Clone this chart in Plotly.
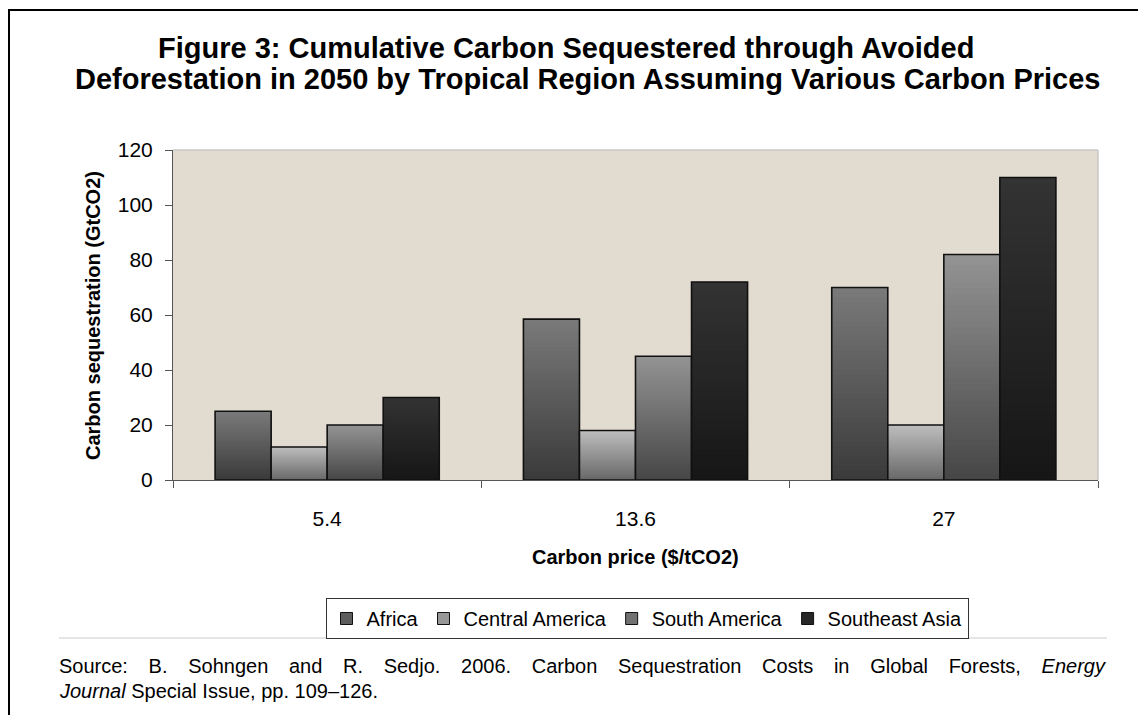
import plotly.graph_objects as go


# =========================================
# DATA
# =========================================
prices = ["5.4", "13.6", "27"]
regions = ["Africa", "Central America", "South America", "Southeast Asia"]

africa = [25, 58.5, 70]
central_america = [12, 18, 20]
south_america = [20, 45, 82]
southeast_asia = [30, 72, 110]

y_ticks = [0, 20, 40, 60, 80, 100, 120]


# =========================================
# STYLE
# =========================================
FONT_FAMILY = "Arial, Liberation Sans, sans-serif"
PLOT_BG = "#e2dbd0"
AXIS_COLOR = "#555555"
# (top colour, bottom colour) of each bar gradient
GRADIENTS = {
    "Africa": ((0x7a, 0x7a, 0x7a), (0x3a, 0x3a, 0x3a)),
    "Central America": ((0xbe, 0xbe, 0xbe), (0x68, 0x68, 0x68)),
    "South America": ((0x94, 0x94, 0x94), (0x46, 0x46, 0x46)),
    "Southeast Asia": ((0x33, 0x33, 0x33), (0x16, 0x16, 0x16)),
}
N_LAYERS = 40

# page is offset by the 8px body margin of the html page
OFF = 8
W, H = 1146 - 2 * OFF, 723 - 2 * OFF
# plot area in page pixels (used only to place decorations)
L, R, T, B = 173, 1098, 150, 480


def px_x(x):
    return (x - L) / (R - L)


def px_y(y):
    return (B - y) / (B - T)


def mix(c1, c2, t):
    r, g, b = (round(a + (b_ - a) * t) for a, b_ in zip(c1, c2))
    return f"rgb({r},{g},{b})"


series = {
    "Africa": africa,
    "Central America": central_america,
    "South America": south_america,
    "Southeast Asia": southeast_asia,
}

fig = go.Figure()

for name, values in series.items():
    top, bottom = GRADIENTS[name]

    # gradient fill: overlapping bars, each shorter and darker than the last
    for k in range(N_LAYERS):
        frac = (N_LAYERS - k) / N_LAYERS
        fig.add_trace(go.Bar(
            x=prices,
            y=[v * frac for v in values],
            offsetgroup=name,
            marker=dict(color=mix(bottom, top, frac - 0.5 / N_LAYERS), line=dict(width=0)),
            showlegend=False,
            hoverinfo="skip",
        ))

    # outline
    fig.add_trace(go.Bar(
        x=prices,
        y=values,
        offsetgroup=name,
        marker=dict(color="rgba(0,0,0,0)", line=dict(color="#111111", width=1.6)),
        name=name,
        showlegend=False,
    ))

    # legend entry
    fig.add_trace(go.Bar(
        x=[None],
        y=[None],
        offsetgroup=name,
        marker=dict(color=mix(bottom, top, 0.55), line=dict(color="#111111", width=1)),
        name=name,
        showlegend=True,
    ))


fig.update_layout(
    width=W,
    height=H,
    barmode="group",
    bargap=0.273,
    bargroupgap=0,
    paper_bgcolor="white",
    plot_bgcolor=PLOT_BG,
    font=dict(family=FONT_FAMILY, color="black", size=21),
    margin=dict(l=L - OFF, r=W - (R - OFF), t=T - OFF, b=H - (B - OFF)),
    legend=dict(
        orientation="h",
        x=px_x(647),
        xanchor="center",
        y=px_y(598),
        yanchor="top",
        bordercolor="#333333",
        borderwidth=1,
        bgcolor="white",
        font=dict(size=20),
        traceorder="normal",
        itemwidth=30,
    ),
)

fig.update_xaxes(
    showline=True,
    linecolor=AXIS_COLOR,
    linewidth=1,
    ticks="outside",
    tickson="boundaries",
    ticklen=7,
    tickcolor=AXIS_COLOR,
    ticklabelstandoff=20,
    tickfont=dict(size=21),
    showgrid=False,
)

fig.update_yaxes(
    range=[0, 120],
    tickvals=y_ticks,
    showline=True,
    linecolor=AXIS_COLOR,
    linewidth=1,
    ticks="outside",
    ticklen=7,
    tickcolor=AXIS_COLOR,
    ticklabelstandoff=8,
    tickfont=dict(size=21),
    showgrid=False,
    zeroline=False,
)

# title, two lines
for text, x, y in [
    ("Figure 3: Cumulative Carbon Sequestered through Avoided", 566, 48),
    ("Deforestation in 2050 by Tropical Region Assuming Various Carbon Prices", 587, 79),
]:
    fig.add_annotation(
        xref="paper", yref="paper", x=px_x(x), y=px_y(y),
        xanchor="center", yanchor="middle", showarrow=False,
        text=f"<b>{text}</b>", font=dict(size=29),
    )

# axis titles
fig.add_annotation(
    xref="paper", yref="paper", x=px_x(635), y=px_y(557),
    xanchor="center", yanchor="middle", showarrow=False,
    text="<b>Carbon price ($/tCO2)</b>", font=dict(size=20),
)
fig.add_annotation(
    xref="paper", yref="paper", x=px_x(93), y=px_y(316),
    xanchor="center", yanchor="middle", showarrow=False, textangle=-90,
    text="<b>Carbon sequestration (GtCO2)</b>", font=dict(size=20),
)

# light frame on top/right of the plot area
fig.add_shape(type="line", xref="paper", yref="paper", x0=0, x1=1, y0=1, y1=1,
              line=dict(color="#c8c8c8", width=1.5))
fig.add_shape(type="line", xref="paper", yref="paper", x0=1, x1=1, y0=0, y1=1,
              line=dict(color="#c8c8c8", width=1.5))

# outer black frame (left and top edges visible)
fig.add_shape(type="line", xref="paper", yref="paper",
              x0=px_x(9), x1=px_x(9), y0=px_y(10), y1=px_y(740),
              line=dict(color="black", width=2))
fig.add_shape(type="line", xref="paper", yref="paper",
              x0=px_x(8), x1=px_x(1160), y0=px_y(10), y1=px_y(10),
              line=dict(color="black", width=2))

# separator above the source note
fig.add_shape(type="line", xref="paper", yref="paper",
              x0=px_x(59), x1=px_x(1107), y0=px_y(638), y1=px_y(638),
              line=dict(color="#dddddd", width=1.5))

# source note (spaces widened to imitate justified text)
gap = " \u00a0\u00a0\u2009"
source_1 = ("Source: B. Sohngen and R. Sedjo. 2006. Carbon Sequestration Costs in Global Forests,".replace(" ", gap)
            + gap + "<i>Energy</i>")
source_2 = "<i>Journal</i> Special Issue, pp. 109\u2013126."
for text, y in [(source_1, 666), (source_2, 691)]:
    fig.add_annotation(
        xref="paper", yref="paper", x=px_x(57), y=px_y(y),
        xanchor="left", yanchor="middle", align="left", showarrow=False,
        text=text, font=dict(size=20),
    )

fig.write_html("out.html")
